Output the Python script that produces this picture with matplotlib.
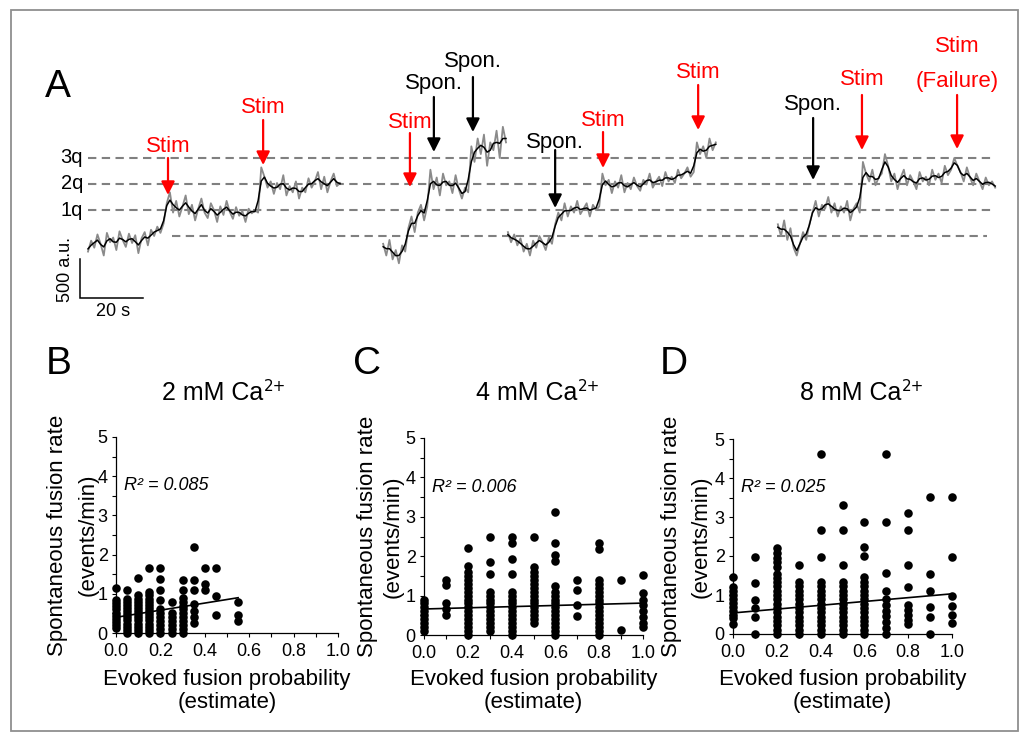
import numpy as np
import matplotlib
matplotlib.use('Agg')
import matplotlib.pyplot as plt
from matplotlib.patches import Rectangle

plt.rcParams['font.family'] = ['Liberation Sans', 'DejaVu Sans']

# ---------------- DATA ----------------
# Panel A: fluorescence traces (a.u., relative to baseline), sampled every dt seconds
dt = 1.0
trace1_t0 = 0.0
trace1 = [-200, -60, -150, 20, -100, -250, 40, -80, -20, -180, 60, -50, -140, 30, -90, 10,
          -220, -30, 50, -120, 80, 0, 120, 40, 160, 420, 560, 300, 450, 250, 380, 520, 280,
          400, 200, 350, 480, 300, 230, 420, 330, 180, 380, 270, 450, 310, 220, 370, 260,
          320, 180, 350, 290, 330, 300, 880, 760, 620, 700, 540, 680, 600, 780, 520, 640,
          560, 700, 480, 620, 560, 740, 620, 700, 820, 600, 760, 560, 700, 800, 640, 680]
trace2_t0 = 93.7
trace2 = [-100, -250, -50, -300, -180, -350, -120, -200, 100, 250, 50, 300, 400, 200, 380,
          850, 600, 750, 520, 800, 650, 700, 550, 780, 600, 480, 620, 560, 1150, 950, 1250,
          1050, 1300, 900, 1200, 1100, 1350, 1000, 1400, 1200]
trace3_t0 = 133.3
trace3 = [50, -80, 20, -120, -30, -200, -100, -250, -60, -150, 0, -80, -180, -20, -100, 150,
          300, 200, 420, 250, 380, 300, 450, 280, 350, 420, 250, 400, 330, 380, 800, 650, 720,
          550, 700, 620, 780, 560, 680, 600, 750, 640, 580, 720, 660, 800, 620, 700, 760, 640,
          820, 700, 760, 680, 850, 740, 800, 880, 760, 820, 1200, 1050, 1150, 1000, 1250,
          1100, 1200]
trace4_t0 = 219.0
trace4 = [150, 0, 200, -50, 100, -150, -250, -100, 50, -50, 150, 300, 450, 250, 400, 350, 500,
          300, 420, 250, 380, 300, 450, 200, 350, 420, 300, 950, 800, 700, 850, 650, 750, 800,
          1050, 900, 700, 800, 600, 750, 850, 650, 780, 700, 600, 820, 700, 760, 650, 850, 720,
          800, 680, 900, 780, 850, 1000, 900, 820, 700, 880, 750, 650, 800, 700, 600, 750, 650,
          700, 620]

q_levels = [0, 333, 667, 1000]
q_labels = ['', '1q', '2q', '3q']
q_start = [26.7, 0.0, 0.0, 0.0]
q_end = [285.4, 287.0, 287.0, 287.0]

# arrows: time, tip (a.u.), tail (a.u.), label centre (a.u.), label, kind
arrow_t = [25.4, 55.6, 102.2, 109.8, 122.2, 148.3, 163.5, 193.7, 230.2, 245.7, 275.9]
arrow_tip = [526, 910, 628, 1077, 1333, 359, 872, 1359, 718, 1102, 1115]
arrow_tail = [1000, 1487, 1320, 1782, 2038, 1102, 1333, 1936, 1513, 1808, 1808]
arrow_lab_y = [1141, 1641, 1449, 1949, 2231, 1205, 1487, 2090, 1692, 2000, 1987]
arrow_label = ['Stim', 'Stim', 'Stim', 'Spon.', 'Spon.', 'Spon.', 'Stim', 'Stim', 'Spon.',
               'Stim', '(Failure)']
arrow_kind = ['stim', 'stim', 'stim', 'spon', 'spon', 'spon', 'stim', 'stim', 'spon', 'stim',
              'stim']
failure_top_label_y = 2423

# scale bar
bar_au = 500
bar_s = 20

# Panels B-D: evoked fusion probability columns and spontaneous rates
b_cols = [0.0, 0.05, 0.1, 0.15, 0.2, 0.25, 0.3, 0.35, 0.4, 0.45, 0.55]
b_vals = [
    [0.12, 0.2, 0.28, 0.36, 0.44, 0.52, 0.6, 0.68, 0.76, 0.84, 1.15],
    [0.0, 0.08, 0.16, 0.24, 0.32, 0.4, 0.48, 0.56, 0.64, 0.72, 0.8, 0.88, 1.1],
    [0.0, 0.08, 0.16, 0.24, 0.32, 0.4, 0.48, 0.56, 0.64, 0.72, 0.8, 0.88, 0.96, 1.4],
    [0.0, 0.08, 0.16, 0.24, 0.32, 0.4, 0.48, 0.56, 0.64, 0.72, 0.8, 0.88, 0.96, 1.05, 1.65],
    [0.0, 0.1, 0.2, 0.3, 0.4, 0.5, 0.6, 0.85, 1.1, 1.37, 1.65],
    [0.0, 0.1, 0.2, 0.3, 0.4, 0.5, 0.8],
    [0.0, 0.1, 0.2, 0.3, 0.4, 0.5, 0.6, 0.7, 0.8, 0.9, 1.1, 1.35],
    [0.25, 0.4, 0.55, 0.75, 1.1, 1.35, 2.2],
    [1.1, 1.25, 1.65],
    [0.45, 0.95, 1.65],
    [0.3, 0.45, 0.8],
]
c_cols = [0.0, 0.1, 0.2, 0.3, 0.4, 0.5, 0.6, 0.7, 0.8, 0.9, 1.0]
c_vals = [
    [0.1, 0.2, 0.3, 0.4, 0.5, 0.6, 0.7, 0.8, 0.9],
    [0.5, 0.67, 0.8, 1.27, 1.4],
    [0.0, 0.1, 0.2, 0.3, 0.4, 0.5, 0.6, 0.7, 0.8, 0.9, 1.0, 1.1, 1.2, 1.3, 1.4, 1.5, 1.6,
     1.75, 2.2],
    [0.1, 0.2, 0.3, 0.4, 0.5, 0.6, 0.7, 0.8, 0.9, 1.0, 1.1, 1.55, 1.86, 2.5],
    [0.0, 0.1, 0.2, 0.3, 0.4, 0.5, 0.6, 0.7, 0.8, 0.9, 1.0, 1.1, 1.55, 1.92, 2.33, 2.5],
    [0.3, 0.4, 0.5, 0.6, 0.7, 0.8, 0.9, 1.0, 1.1, 1.2, 1.3, 1.4, 1.5, 1.6, 1.72, 2.5],
    [0.0, 0.1, 0.2, 0.3, 0.4, 0.5, 0.6, 0.7, 0.8, 0.9, 1.0, 1.1, 1.25, 1.88, 2.03, 2.33, 3.13],
    [0.47, 0.76, 1.13, 1.4],
    [0.0, 0.1, 0.2, 0.3, 0.4, 0.5, 0.6, 0.7, 0.8, 0.9, 1.0, 1.1, 1.2, 1.3, 1.4, 2.18, 2.33],
    [0.13, 1.4],
    [0.2, 0.3, 0.45, 0.6, 0.75, 0.9, 1.06, 1.52],
]
d_cols = [0.0, 0.1, 0.2, 0.3, 0.4, 0.5, 0.6, 0.7, 0.8, 0.9, 1.0]
d_vals = [
    [0.25, 0.4, 0.5, 0.6, 0.7, 0.8, 0.9, 1.0, 1.1, 1.2, 1.45],
    [0.0, 0.44, 0.66, 0.87, 1.32, 1.97],
    [0.0, 0.11, 0.22, 0.33, 0.44, 0.56, 0.67, 0.78, 0.89, 1.0, 1.11, 1.22, 1.33, 1.44, 1.53,
     1.73, 1.84, 1.95, 2.08, 2.2],
    [0.0, 0.11, 0.22, 0.33, 0.44, 0.56, 0.67, 0.78, 0.89, 1.0, 1.11, 1.22, 1.34, 1.77],
    [0.0, 0.11, 0.22, 0.33, 0.44, 0.56, 0.67, 0.78, 0.89, 1.0, 1.11, 1.22, 1.34, 1.98, 2.67,
     4.62],
    [0.0, 0.11, 0.22, 0.33, 0.44, 0.56, 0.67, 0.78, 0.89, 1.0, 1.11, 1.22, 1.34, 1.78, 2.67,
     3.32],
    [0.0, 0.11, 0.22, 0.33, 0.44, 0.56, 0.67, 0.78, 0.89, 1.0, 1.11, 1.22, 1.34, 1.47, 1.99,
     2.22, 2.88],
    [0.0, 0.15, 0.3, 0.45, 0.6, 0.75, 0.89, 1.11, 1.56, 2.88, 4.62],
    [0.25, 0.36, 0.49, 0.62, 0.75, 1.21, 1.78, 2.67, 3.09],
    [0.0, 0.44, 0.7, 1.1, 1.55, 3.52],
    [0.27, 0.49, 0.73, 0.97, 1.98, 3.52],
]
# regression lines: (x0, x1, y0, y1)
b_fit = (0.0, 0.55, 0.40, 0.90)
c_fit = (0.0, 1.0, 0.66, 0.81)
d_fit = (0.0, 1.0, 0.54, 1.03)
r2_labels = ['R² = 0.085', 'R² = 0.006', 'R² = 0.025']
title_main = ['2 mM Ca', '4 mM Ca', '8 mM Ca']
title_sup = '2+'
x_ticks = [0.0, 0.2, 0.4, 0.6, 0.8, 1.0]
x_ticklabels = ['0.0', '0.2', '0.4', '0.6', '0.8', '1.0']
y_ticks = [0, 1, 2, 3, 4, 5]

# ---------------- FIGURE ----------------
W, H = 1029, 742
fig = plt.figure(figsize=(W / 100, H / 100), dpi=100)


def fx(px):
    return px / W


def fy(py):
    return 1 - py / H


fig.patches.append(Rectangle((fx(11), fy(731)), fx(1018) - fx(11), fy(10) - fy(731),
                             transform=fig.transFigure, fill=False,
                             edgecolor='#8f8f8f', lw=1.3))

# ---- Panel A ----
axA = fig.add_axes([fx(40), fy(320), fx(1010) - fx(40), fy(30) - fy(320)])
axA.set_xlim((40 - 88) / 3.15, (1010 - 88) / 3.15)
axA.set_ylim((236 - 320) * 12.82, (236 - 30) * 12.82)
axA.axis('off')

for lvl, lab, s, e in zip(q_levels, q_labels, q_start, q_end):
    axA.plot([s, e], [lvl, lvl], color='#808080', lw=1.5, dashes=(4, 2.6), zorder=1)
    if lab:
        axA.text(-1.6, lvl, lab, ha='right', va='center', fontsize=14.5)


def smooth(v):
    v = np.asarray(v, float)
    p = np.r_[v[0], v, v[-1]]
    return np.convolve(p, [0.25, 0.5, 0.25], 'valid')


for t0, tr in [(trace1_t0, trace1), (trace2_t0, trace2), (trace3_t0, trace3),
               (trace4_t0, trace4)]:
    t = t0 + dt * np.arange(len(tr))
    axA.plot(t, tr, color='#8a8a8a', lw=1.3, zorder=2)
    axA.plot(t, smooth(tr), color='black', lw=1.1, zorder=3)

for t, tip, tail, ly, lab, kind in zip(arrow_t, arrow_tip, arrow_tail, arrow_lab_y,
                                       arrow_label, arrow_kind):
    col = 'red' if kind == 'stim' else 'black'
    axA.annotate('', xy=(t, tip), xytext=(t, tail),
                 arrowprops=dict(arrowstyle='-|>,head_length=0.5,head_width=0.25',
                                 color=col, lw=1.6, shrinkA=0, shrinkB=0,
                                 mutation_scale=16))
    axA.text(t, ly, lab, color=col, ha='center', va='center', fontsize=16)
axA.text(arrow_t[-1], failure_top_label_y, 'Stim', color='red', ha='center', va='center',
         fontsize=16)

# scale bar
sb_t = (80 - 88) / 3.15
sb_top = (236 - 259) * 12.82
axA.plot([sb_t, sb_t, sb_t + bar_s], [sb_top, sb_top - bar_au, sb_top - bar_au],
         color='black', lw=1.1, solid_joinstyle='miter')
axA.text((66 - 88) / 3.15, (236 - 269) * 12.82, f'{bar_au} a.u.', rotation=90,
         ha='center', va='center', fontsize=13)
axA.text(sb_t + bar_s / 2 + 0.5, (236 - 312) * 12.82, f'{bar_s} s', ha='center',
         va='center', fontsize=13)

fig.text(fx(58), fy(97), 'A', fontsize=28, ha='center', va='baseline')

# ---- Panels B-D ----
panels = [
    dict(l=116, r=338, b=633, t=437, cols=b_cols, vals=b_vals, fit=b_fit,
         letter='B', lx=59, y1=57, y2=88, tx=224),
    dict(l=424, r=643, b=635, t=438, cols=c_cols, vals=c_vals, fit=c_fit,
         letter='C', lx=367, y1=368, y2=393, tx=538),
    dict(l=733, r=952, b=634, t=439, cols=d_cols, vals=d_vals, fit=d_fit,
         letter='D', lx=674, y1=672, y2=701, tx=862),
]

for i, p in enumerate(panels):
    ax = fig.add_axes([fx(p['l']), fy(p['b']), fx(p['r']) - fx(p['l']),
                       fy(p['t']) - fy(p['b'])])
    xs = np.concatenate([[c] * len(v) for c, v in zip(p['cols'], p['vals'])])
    ys = np.concatenate([np.asarray(v, float) for v in p['vals']])
    ax.scatter(xs, ys, s=38, c='black', linewidths=0, clip_on=False, zorder=3)
    x0, x1, y0, y1 = p['fit']
    ax.plot([x0, x1], [y0, y1], color='black', lw=1.2, zorder=4)
    ax.set_xlim(0, 1)
    ax.set_ylim(0, 5)
    for s in ['top', 'right']:
        ax.spines[s].set_visible(False)
    for s in ['left', 'bottom']:
        ax.spines[s].set_linewidth(0.9)
    ax.set_xticks(x_ticks)
    ax.set_xticklabels(x_ticklabels)
    ax.set_xticks([0.1, 0.3, 0.5, 0.7, 0.9], minor=True)
    ax.set_yticks(y_ticks)
    ax.set_yticks([0.5, 1.5, 2.5, 3.5, 4.5], minor=True)
    ax.tick_params(which='both', direction='out', length=3, width=0.8, labelsize=13)
    ax.tick_params(axis='x', pad=4)
    ax.tick_params(axis='y', pad=3)
    ax.text(0.035, 3.75, r2_labels[i], fontsize=13, style='italic', ha='left', va='center')

    cx = (p['l'] + p['r']) / 2
    # title: main part plus small superscript, centred as a whole
    t_main = fig.text(0, fy(400), title_main[i], fontsize=18, ha='left', va='baseline')
    t_sup = fig.text(0, fy(391), title_sup, fontsize=11, ha='left', va='baseline',
                     family=['DejaVu Sans'])
    fig.canvas.draw()
    r = fig.canvas.get_renderer()
    w_main = t_main.get_window_extent(r).width
    w_sup = t_sup.get_window_extent(r).width
    left_px = p['tx'] - (w_main + w_sup) / 2
    t_main.set_x(fx(left_px))
    t_sup.set_x(fx(left_px + w_main + 0.5))

    fig.text(fx(p['lx']), fy(374), p['letter'], fontsize=28, ha='center', va='baseline')
    cy = (p['t'] + p['b']) / 2
    fig.text(fx(p['y1']), fy(cy), 'Spontaneous fusion rate', rotation=90, fontsize=16,
             ha='center', va='center')
    fig.text(fx(p['y2']), fy(cy), '(events/min)', rotation=90, fontsize=16,
             ha='center', va='center')
    fig.text(fx(cx), fy(685), 'Evoked fusion probability', fontsize=16, ha='center',
             va='baseline')
    fig.text(fx(cx), fy(708), '(estimate)', fontsize=16, ha='center', va='baseline')

fig.savefig('out.png', dpi=100)
